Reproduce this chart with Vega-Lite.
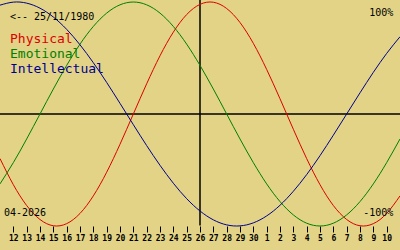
{
  "$schema": "https://vega.github.io/schema/vega-lite/v6.json",
  "autosize": "none",
  "padding": {"left": 0, "top": 0, "right": 0, "bottom": 24},
  "width": 400,
  "height": 226,
  "background": "#e2d386",
  "config": {"view": {"stroke": null}},
  "encoding": {
    "x": {
      "field": "t", "type": "quantitative",
      "scale": {"domain": [-15, 15], "nice": false, "zero": false},
      "axis": {
        "title": null, "domain": false, "grid": false,
        "values": [-14,-13,-12,-11,-10,-9,-8,-7,-6,-5,-4,-3,-2,-1,0,1,2,3,4,5,6,7,8,9,10,11,12,13,14],
        "labelExpr": "datum.value <= 4 ? datum.value + 26 : datum.value - 4",
        "tickColor": "black", "tickSize": 6, "tickWidth": 1,
        "labelColor": "black", "labelFont": "DejaVu Sans Mono", "labelFontSize": 8, "labelFontWeight": "bold",
        "labelPadding": 2, "labelFlush": false, "labelOverlap": false
      }
    },
    "y": {
      "field": "v", "type": "quantitative",
      "scale": {"domain": [-1, 1.018], "nice": false, "zero": false},
      "axis": null
    }
  },
  "layer": [
    {
      "data": {"values": [{"t": -15, "t2": 15, "v": 0}]},
      "mark": {"type": "rule", "color": "black", "strokeWidth": 1.5},
      "encoding": {"x2": {"field": "t2"}}
    },
    {
      "data": {"values": [{"t": 0, "v": -0.995, "v2": 1.018}]},
      "mark": {"type": "rule", "color": "black", "strokeWidth": 1.5},
      "encoding": {"y2": {"field": "v2"}}
    },
    {
      "data": {"values": [
      {"t": -15, "series": "Physical", "v": -0.398}, {"t": -14, "series": "Physical", "v": -0.631}, {"t": -13, "series": "Physical", "v": -0.817}, {"t": -12, "series": "Physical", "v": -0.942}, {"t": -11, "series": "Physical", "v": -0.998}, {"t": -10, "series": "Physical", "v": -0.979}, {"t": -9, "series": "Physical", "v": -0.888}, {"t": -8, "series": "Physical", "v": -0.731}, {"t": -7, "series": "Physical", "v": -0.520}, {"t": -6, "series": "Physical", "v": -0.270}, {"t": -5, "series": "Physical", "v": 0.0}, {"t": -4, "series": "Physical", "v": 0.270}, {"t": -3, "series": "Physical", "v": 0.520}, {"t": -2, "series": "Physical", "v": 0.731}, {"t": -1, "series": "Physical", "v": 0.888}, {"t": 0, "series": "Physical", "v": 0.979}, {"t": 1, "series": "Physical", "v": 0.998}, {"t": 2, "series": "Physical", "v": 0.942}, {"t": 3, "series": "Physical", "v": 0.817}, {"t": 4, "series": "Physical", "v": 0.631}, {"t": 5, "series": "Physical", "v": 0.398}, {"t": 6, "series": "Physical", "v": 0.136}, {"t": 7, "series": "Physical", "v": -0.136}, {"t": 8, "series": "Physical", "v": -0.398}, {"t": 9, "series": "Physical", "v": -0.631}, {"t": 10, "series": "Physical", "v": -0.817}, {"t": 11, "series": "Physical", "v": -0.942}, {"t": 12, "series": "Physical", "v": -0.998}, {"t": 13, "series": "Physical", "v": -0.979}, {"t": 14, "series": "Physical", "v": -0.888}, {"t": 15, "series": "Physical", "v": -0.731},
      {"t": -15, "series": "Emotional", "v": -0.624}, {"t": -14, "series": "Emotional", "v": -0.434}, {"t": -13, "series": "Emotional", "v": -0.223}, {"t": -12, "series": "Emotional", "v": 0.0}, {"t": -11, "series": "Emotional", "v": 0.223}, {"t": -10, "series": "Emotional", "v": 0.434}, {"t": -9, "series": "Emotional", "v": 0.624}, {"t": -8, "series": "Emotional", "v": 0.782}, {"t": -7, "series": "Emotional", "v": 0.901}, {"t": -6, "series": "Emotional", "v": 0.975}, {"t": -5, "series": "Emotional", "v": 1.0}, {"t": -4, "series": "Emotional", "v": 0.975}, {"t": -3, "series": "Emotional", "v": 0.901}, {"t": -2, "series": "Emotional", "v": 0.782}, {"t": -1, "series": "Emotional", "v": 0.624}, {"t": 0, "series": "Emotional", "v": 0.434}, {"t": 1, "series": "Emotional", "v": 0.223}, {"t": 2, "series": "Emotional", "v": 0.0}, {"t": 3, "series": "Emotional", "v": -0.223}, {"t": 4, "series": "Emotional", "v": -0.434}, {"t": 5, "series": "Emotional", "v": -0.624}, {"t": 6, "series": "Emotional", "v": -0.782}, {"t": 7, "series": "Emotional", "v": -0.901}, {"t": 8, "series": "Emotional", "v": -0.975}, {"t": 9, "series": "Emotional", "v": -1.0}, {"t": 10, "series": "Emotional", "v": -0.975}, {"t": 11, "series": "Emotional", "v": -0.901}, {"t": 12, "series": "Emotional", "v": -0.782}, {"t": 13, "series": "Emotional", "v": -0.624}, {"t": 14, "series": "Emotional", "v": -0.434}, {"t": 15, "series": "Emotional", "v": -0.223},
      {"t": -15, "series": "Intellectual", "v": 0.972}, {"t": -14, "series": "Intellectual", "v": 0.999}, {"t": -13, "series": "Intellectual", "v": 0.990}, {"t": -12, "series": "Intellectual", "v": 0.945}, {"t": -11, "series": "Intellectual", "v": 0.866}, {"t": -10, "series": "Intellectual", "v": 0.756}, {"t": -9, "series": "Intellectual", "v": 0.618}, {"t": -8, "series": "Intellectual", "v": 0.458}, {"t": -7, "series": "Intellectual", "v": 0.282}, {"t": -6, "series": "Intellectual", "v": 0.095}, {"t": -5, "series": "Intellectual", "v": -0.095}, {"t": -4, "series": "Intellectual", "v": -0.282}, {"t": -3, "series": "Intellectual", "v": -0.458}, {"t": -2, "series": "Intellectual", "v": -0.618}, {"t": -1, "series": "Intellectual", "v": -0.756}, {"t": 0, "series": "Intellectual", "v": -0.866}, {"t": 1, "series": "Intellectual", "v": -0.945}, {"t": 2, "series": "Intellectual", "v": -0.990}, {"t": 3, "series": "Intellectual", "v": -0.999}, {"t": 4, "series": "Intellectual", "v": -0.972}, {"t": 5, "series": "Intellectual", "v": -0.910}, {"t": 6, "series": "Intellectual", "v": -0.815}, {"t": 7, "series": "Intellectual", "v": -0.690}, {"t": 8, "series": "Intellectual", "v": -0.541}, {"t": 9, "series": "Intellectual", "v": -0.372}, {"t": 10, "series": "Intellectual", "v": -0.189}, {"t": 11, "series": "Intellectual", "v": 0.0}, {"t": 12, "series": "Intellectual", "v": 0.189}, {"t": 13, "series": "Intellectual", "v": 0.372}, {"t": 14, "series": "Intellectual", "v": 0.541}, {"t": 15, "series": "Intellectual", "v": 0.690}
      ]},
      "mark": {"type": "line", "strokeWidth": 1, "interpolate": "natural"},
      "encoding": {
        "color": {
          "field": "series", "type": "nominal",
          "scale": {"domain": ["Physical", "Emotional", "Intellectual"], "range": ["#dd0000", "#008000", "#000090"]},
          "legend": null
        }
      }
    },
    {
      "data": {"values": [
        {"t": -14.25, "v": 0.634, "series": "Physical"},
        {"t": -14.25, "v": 0.504, "series": "Emotional"},
        {"t": -14.25, "v": 0.366, "series": "Intellectual"}
      ]},
      "mark": {"type": "text", "align": "left", "baseline": "alphabetic", "font": "DejaVu Sans Mono", "fontSize": 13},
      "encoding": {
        "text": {"field": "series", "type": "nominal"},
        "color": {"field": "series", "type": "nominal", "legend": null}
      }
    },
    {
      "data": {"values": [
        {"t": -14.25, "v": 0.839, "label": "<-- 25/11/1980"},
        {"t": -14.7, "v": -0.911, "label": "04-2026"}
      ]},
      "mark": {"type": "text", "align": "left", "baseline": "alphabetic", "font": "DejaVu Sans Mono", "fontSize": 10, "color": "black"},
      "encoding": {
        "text": {"field": "label", "type": "nominal"}
      }
    },
    {
      "data": {"values": [
        {"t": 14.5, "v": 0.871, "label": "100%"},
        {"t": 14.5, "v": -0.911, "label": "-100%"}
      ]},
      "mark": {"type": "text", "align": "right", "baseline": "alphabetic", "font": "DejaVu Sans Mono", "fontSize": 10, "color": "black"},
      "encoding": {
        "text": {"field": "label", "type": "nominal"}
      }
    }
  ]
}
